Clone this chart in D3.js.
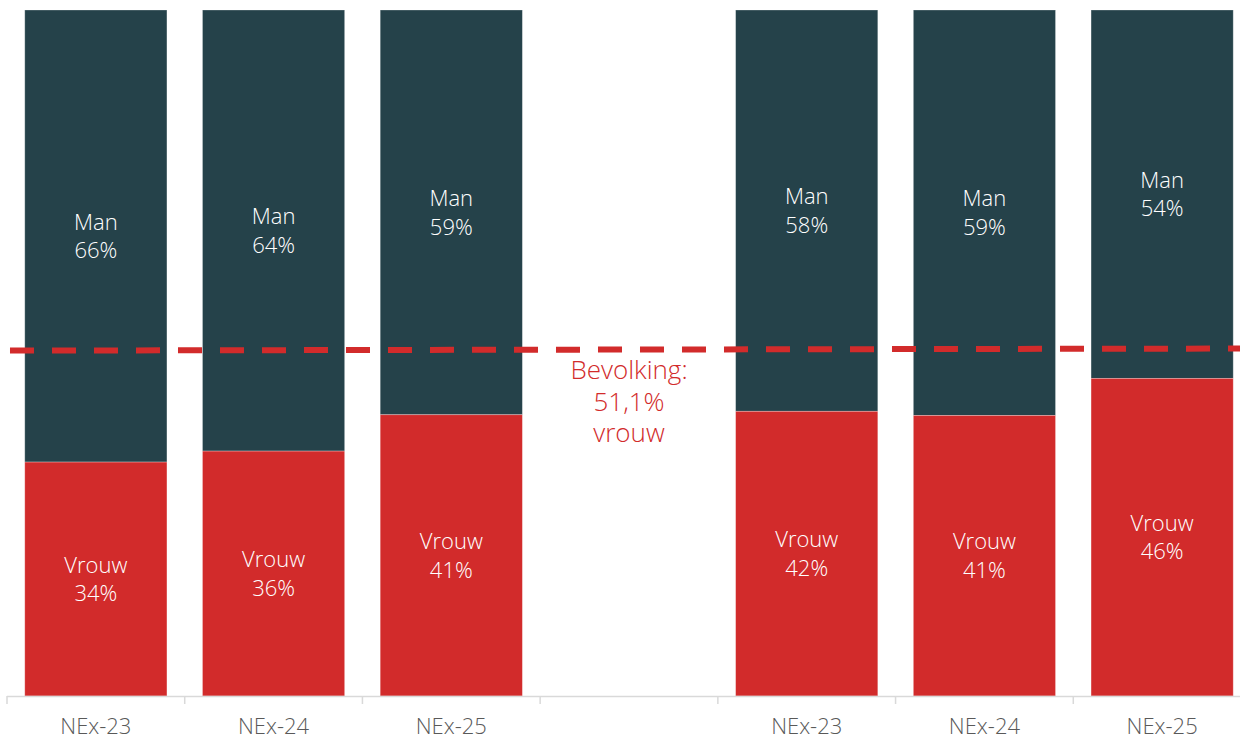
<!DOCTYPE html>
<html>
<head>
<meta charset="utf-8">
<script src="https://cdn.jsdelivr.net/npm/d3@7"></script>
<style>
  html, body { margin: 0; padding: 0; background: #fff; }
  svg { display: block; }
  text { font-family: "Open Sans", Lato, sans-serif; }
</style>
</head>
<body>
<svg id="chart" width="1240" height="738"></svg>
<script>
// ---- data ----
const categories = ["NEx-23", "NEx-24", "NEx-25", "", "NEx-23", "NEx-24", "NEx-25"];
const vrouwShare = [34.1, 35.7, 41.0, null, 41.5, 40.9, 46.3];   // bar height (%)
const vrouwLabel = [34, 36, 41, null, 42, 41, 46];              // printed %
const manLabel   = [66, 64, 59, null, 58, 59, 54];              // printed %
const populationLine = [50.35, 50.65];                          // dashed reference (start, end)
const populationText = ["Bevolking:", "51,1%", "vrouw"];

// ---- styles ----
const darkColor = "#25424a";
const redColor = "#d22b2b";

const svg = d3.select("#chart");
const idx = d3.range(categories.length);

const x = d3.scaleBand()
  .domain(idx)
  .range([7, 1251])
  .paddingInner(0.2)
  .paddingOuter(0.1);
const step = x.step();

const y = d3.scaleLinear().domain([0, 100]).range([696, 10]);

const data = idx.filter(i => vrouwShare[i] !== null).map(i => ({
  i, v: vrouwShare[i], vl: vrouwLabel[i], ml: manLabel[i]
}));

// bars: Man (top) segment
svg.append("g").selectAll("rect").data(data).join("rect")
  .attr("x", d => x(d.i))
  .attr("width", x.bandwidth())
  .attr("y", y(100))
  .attr("height", d => y(d.v) - y(100))
  .attr("fill", darkColor)
  .attr("stroke", "#ffffff").attr("stroke-opacity", 0.35).attr("stroke-width", 0.8);

// bars: Vrouw (bottom) segment
svg.append("g").selectAll("rect").data(data).join("rect")
  .attr("x", d => x(d.i))
  .attr("width", x.bandwidth())
  .attr("y", d => y(d.v))
  .attr("height", d => y(0) - y(d.v))
  .attr("fill", redColor)
  .attr("stroke", "#ffffff").attr("stroke-opacity", 0.35).attr("stroke-width", 0.8);

// segment labels
const lineGap = 28.5;
function twoLine(g, cx, cy, l1, l2) {
  const t = g.append("text")
    .attr("text-anchor", "middle")
    .attr("fill", "#ffffff")
    .attr("font-size", 22)
    .attr("font-weight", 300);
  t.append("tspan").attr("x", cx).attr("y", cy - lineGap / 2 + 8).text(l1);
  t.append("tspan").attr("x", cx).attr("y", cy + lineGap / 2 + 8).text(l2);
}
const lg = svg.append("g");
data.forEach(d => {
  const cx = x(d.i) + x.bandwidth() / 2;
  twoLine(lg, cx, (y(100) + y(d.v)) / 2, "Man", d.ml + "%");
  twoLine(lg, cx, (y(d.v) + y(0)) / 2, "Vrouw", d.vl + "%");
});

// x axis
const axisG = svg.append("g");
axisG.append("line")
  .attr("x1", 7).attr("x2", 1240)
  .attr("y1", 696.5).attr("y2", 696.5)
  .attr("stroke", "#d9d9d9").attr("stroke-width", 1.5);
axisG.selectAll("line.tick").data(idx).join("line")
  .attr("class", "tick")
  .attr("x1", i => x(i) - step * 0.1).attr("x2", i => x(i) - step * 0.1)
  .attr("y1", 696).attr("y2", 704)
  .attr("stroke", "#d9d9d9").attr("stroke-width", 1.5);
axisG.selectAll("text").data(idx).join("text")
  .attr("x", i => x(i) + x.bandwidth() / 2)
  .attr("y", 734)
  .attr("text-anchor", "middle")
  .attr("fill", "#595959")
  .attr("font-size", 22)
  .attr("font-weight", 300)
  .text(i => categories[i]);

// population dashed line
svg.append("line")
  .attr("x1", 10).attr("x2", 1240)
  .attr("y1", y(populationLine[0])).attr("y2", y(populationLine[1]))
  .attr("stroke", redColor)
  .attr("stroke-width", 6)
  .attr("stroke-dasharray", "24 18");

// population text
const midX = x(3) + x.bandwidth() / 2;
const pt = svg.append("text")
  .attr("text-anchor", "middle")
  .attr("fill", redColor)
  .attr("font-size", 26)
  .attr("font-weight", 300);
populationText.forEach((s, k) => {
  pt.append("tspan").attr("x", midX).attr("y", 379 + k * 31.5).text(s);
});
</script>
</body>
</html>
